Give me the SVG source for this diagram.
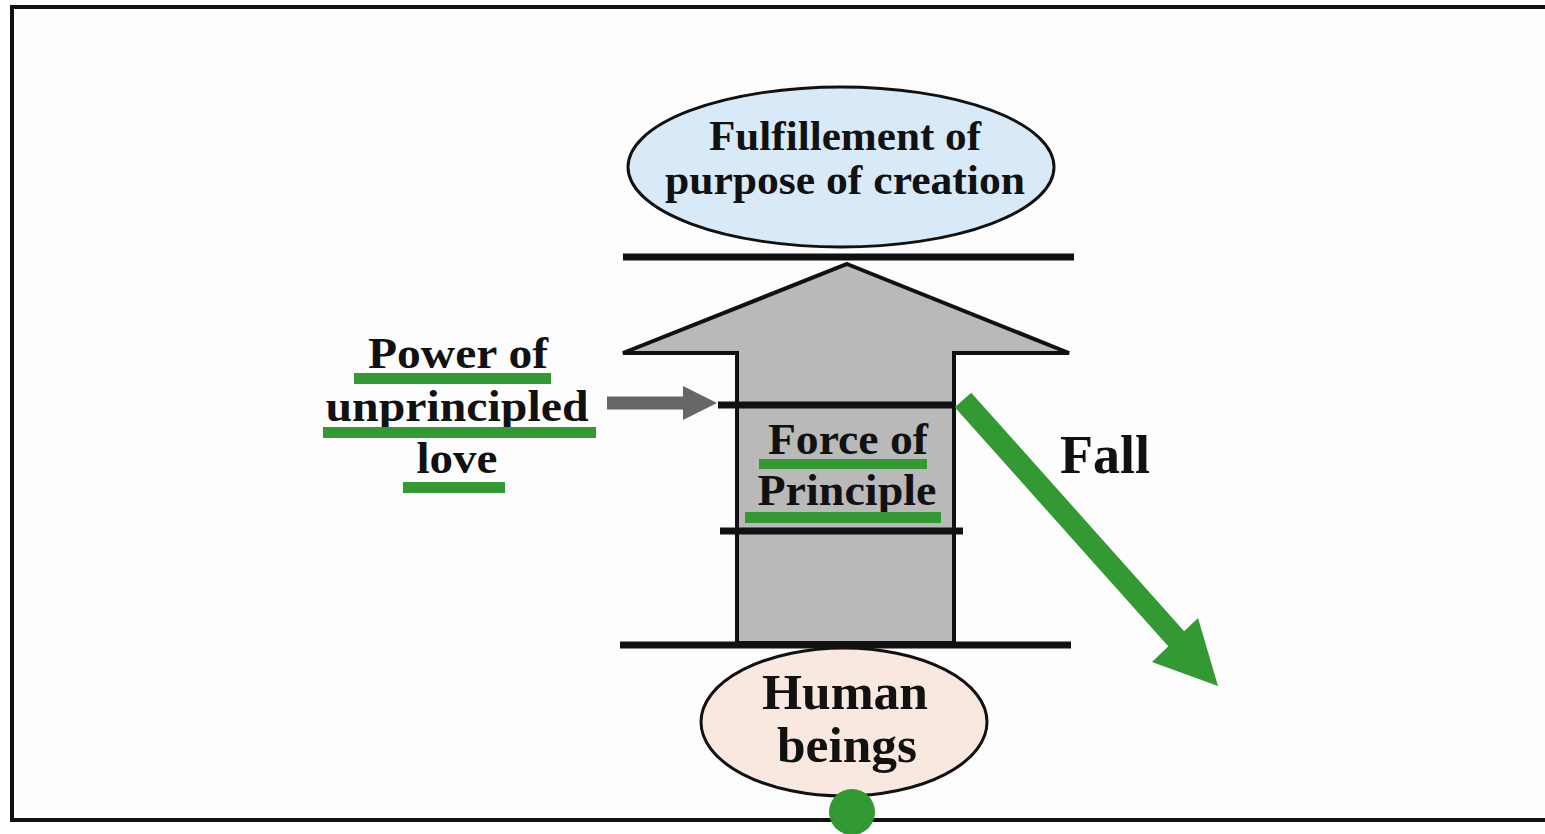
<svg xmlns="http://www.w3.org/2000/svg" width="1545" height="834" viewBox="0 0 1545 834">
<style>
.t{font-family:"Liberation Serif","Times New Roman",serif;font-weight:bold;fill:#111;text-anchor:middle}
.bar{stroke:#111;stroke-width:7}
.ul{fill:#339933}
</style>
<rect x="0" y="0" width="1545" height="834" fill="#ffffff"/>
<rect x="12" y="7" width="1545" height="813" fill="#fdfdfd" stroke="#111" stroke-width="4"/>
<g id="bigarrow">
<polygon points="847,264 1069,353 954,353 954,643 737,643 737,353 623,353" fill="#b9b9b9" stroke="#111" stroke-width="4" stroke-linejoin="miter"/>
</g>
<g id="bars">
<line class="bar" x1="623" y1="257" x2="1074" y2="257"/>
<line class="bar" x1="620" y1="645" x2="1071" y2="645"/>
<line class="bar" x1="718" y1="405" x2="956" y2="405"/>
<line class="bar" x1="720" y1="531" x2="963" y2="531"/>
</g>
<g id="top-node">
<ellipse cx="841" cy="167" rx="213" ry="80" fill="#d8eaf8" stroke="#111" stroke-width="3"/>
<text class="t" x="845" y="150" font-size="42" textLength="272" lengthAdjust="spacingAndGlyphs">Fulfillement of</text>
<text class="t" x="845" y="194" font-size="42" textLength="360" lengthAdjust="spacingAndGlyphs">purpose of creation</text>
</g>
<g id="human-node">
<ellipse cx="844" cy="722" rx="143" ry="74" fill="#f8e8e0" stroke="#111" stroke-width="3"/>
<text class="t" x="845" y="709" font-size="50" textLength="166" lengthAdjust="spacingAndGlyphs">Human</text>
<text class="t" x="847" y="762" font-size="50" textLength="140" lengthAdjust="spacingAndGlyphs">beings</text>
</g>
<g id="love-label">
<text class="t" x="458" y="368" font-size="45" textLength="180" lengthAdjust="spacingAndGlyphs">Power of</text>
<text class="t" x="457" y="421" font-size="45" textLength="263" lengthAdjust="spacingAndGlyphs">unprincipled</text>
<text class="t" x="457" y="473" font-size="45" textLength="81" lengthAdjust="spacingAndGlyphs">love</text>
<rect class="ul" x="354" y="373" width="197" height="11"/>
<rect class="ul" x="323" y="427" width="273" height="11"/>
<rect class="ul" x="403" y="482" width="102" height="11"/>
</g>
<g id="principle-label">
<text class="t" x="848" y="454" font-size="44" textLength="160" lengthAdjust="spacingAndGlyphs">Force of</text>
<text class="t" x="847" y="505" font-size="44" textLength="179" lengthAdjust="spacingAndGlyphs">Principle</text>
<rect class="ul" x="759" y="459" width="168" height="10"/>
<rect class="ul" x="745" y="512" width="196" height="11"/>
</g>
<g id="fall-label">
<text class="t" x="1105" y="473" font-size="54" textLength="90" lengthAdjust="spacingAndGlyphs">Fall</text>
</g>
<g id="dot">
<circle cx="852" cy="812" r="23" fill="#339933"/>
</g>
<g id="connectors">
<line x1="607" y1="403" x2="690" y2="403" stroke="#666" stroke-width="13"/>
<polygon points="683,386 717,403 683,420" fill="#666"/>
<line x1="963" y1="400" x2="1180" y2="643" stroke="#339933" stroke-width="22"/>
<polygon points="1218,686 1152,662 1198,618" fill="#339933"/>
</g>
</svg>
